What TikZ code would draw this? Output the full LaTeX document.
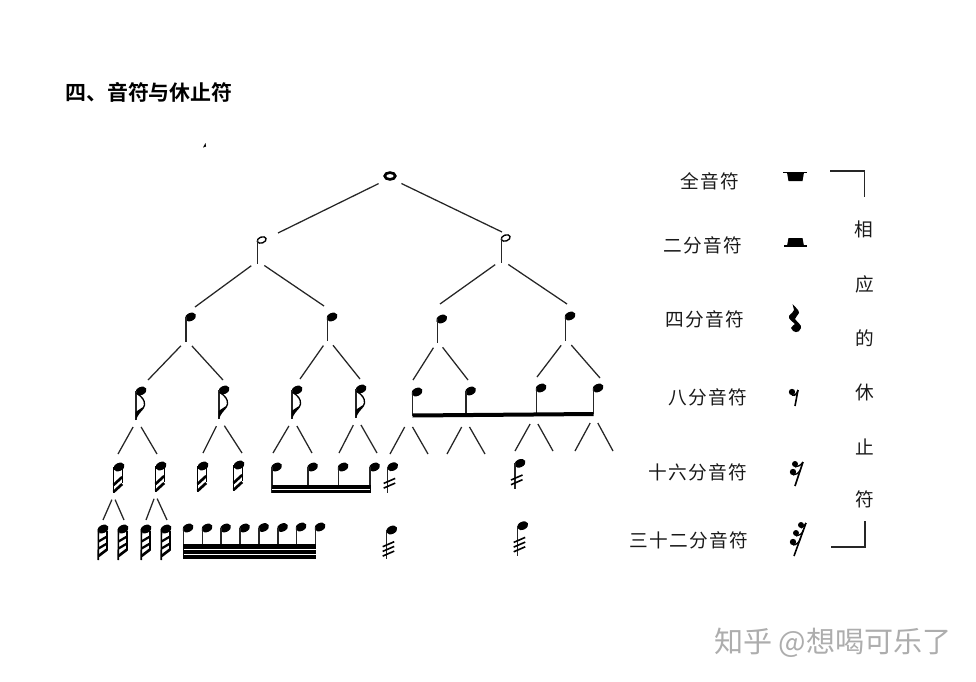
\documentclass[tikz,border=0pt]{standalone}
\usepackage{fontspec}
\newfontfamily\cjk[LetterSpace=7]{Noto Sans CJK SC}
\newfontfamily\cjktitle{Noto Sans CJK SC Bold}
\newfontfamily\cjkmark{Noto Sans CJK SC}
\newcommand\notehead{\fill[rotate=-25] (0,0) ellipse [x radius=5.8,y radius=4];}
\tikzset{
  every pic/.style={yscale=-1},
  label/.style={inner sep=0pt,text=black!90,font=\cjk\fontsize{14}{16}\selectfont},
  branch/.style={line width=0.95pt,black!85},
  stem/.style={line width=1pt,black!85},
  pics/whole/.style={code={
    \draw[line width=2pt] (0,0) ellipse [x radius=5.3,y radius=3.4];
    \coordinate (-fork) at (0,2);
  }},
  pics/half/.style={code={
    \draw[line width=1pt,rotate=-20] (0,0) ellipse [x radius=4.6,y radius=3];
    \draw[stem] (-4.5,0) -- (-4.5,#1);
    \coordinate (-fork) at (-4,#1-3);
  }},
  pics/quarter/.style={code={
    \notehead
    \draw[stem] (-4.5,0) -- (-4.5,#1);
    \coordinate (-foot) at (-4.5,#1);
    \coordinate (-fork) at (-4,#1-2);
  }},
  pics/eighth/.style={code={
    \notehead
    \draw[stem] (-5,0) -- (-5,29);
    \draw[line width=1pt] (-4.5,2) .. controls (1,6) and (4,9) .. (3.5,14) .. controls (3,18) and (-2,21) .. (-4.5,25);
    \fill (-5.4,29) -- (-5.4,21) -- (2,16) -- cycle;
    \coordinate (-fork) at (-4,29);
  }},
  pics/sixteenth/.style={code={
    \notehead
    \draw[line width=1.2pt] (-5.5,0) -- (-5.5,26);
    \draw[line width=1pt] (3.2,2) -- (3.2,16);
    \draw[line width=2pt] (-5.5,18) -- (3.2,10);
    \draw[line width=2pt] (-5.5,25) -- (3.2,17);
    \coordinate (-fork) at (-5.5,29);
  }},
  pics/thirtysecond/.style={code={
    \notehead
    \draw[line width=1.2pt] (-4.5,0) -- (-4.8,31);
    \draw[line width=1pt] (4,2) -- (4,21);
    \draw[line width=1.7pt] (-4.5,12.5) -- (4,7.5);
    \draw[line width=1.7pt] (-4.5,19.5) -- (4,14.5);
    \draw[line width=2pt] (-4.5,27) -- (4,20.5);
  }},
  pics/trem/.style 2 args={code={
    \notehead
    \draw[stem] (-5,0) -- (-5,#1);
    \foreach \k in {1,...,#2} \draw[line width=1.2pt] (-9,12+4.7*\k) -- (2.5,7+4.7*\k);
  }},
}
\begin{document}
\begin{tikzpicture}[x=0.75pt,y=0.75pt,yscale=-1,xscale=1]
\useasboundingbox (0,0) rectangle (976,682);

% Title
\node[inner sep=0pt,anchor=west,font=\cjktitle\fontsize{15.7}{18}\selectfont] (title) at (65,92) {四、音符与休止符};
\fill (203,147.5) -- (205.5,143) -- (206,146.5) -- cycle;

% Notes
\pic (w) at (390,176) {whole};
\pic (h1) at (261.7,240) {half=24};
\pic (h2) at (505.7,238) {half=25};
\pic (q1) at (190.5,317) {quarter=25};
\pic (q2) at (332,317) {quarter=24};
\pic (q3) at (441.7,319) {quarter=24};
\pic (q4) at (570,316) {quarter=25};
\pic (e1) at (141,391) {eighth};
\pic (e2) at (224,390) {eighth};
\pic (e3) at (297,390) {eighth};
\pic (e4) at (361,389) {eighth};
\pic (b1) at (417,392) {quarter=23.5};
\pic (b2) at (470.5,391) {quarter=24};
\pic (b3) at (541,388) {quarter=26.5};
\pic (b4) at (598,388) {quarter=26};
\pic (s1) at (119,467) {sixteenth};
\pic (s2) at (161,466) {sixteenth};
\pic (s3) at (203,466) {sixteenth};
\pic (s4) at (239,465) {sixteenth};
\pic (u1) at (276.5,467) {quarter=26};
\pic (u2) at (312.5,467) {quarter=26};
\pic (u3) at (343,467) {quarter=26};
\pic (u4) at (374.5,467) {quarter=26};
\pic at (392.7,466.7) {trem={26}{2}};
\pic at (520,463.3) {trem={26}{2}};
\pic at (391.7,530) {trem={29}{3}};
\pic at (522.7,525.7) {trem={30}{3}};
\pic at (103,529) {thirtysecond};
\pic at (123,529) {thirtysecond};
\pic at (146,529) {thirtysecond};
\pic at (166,529) {thirtysecond};
\foreach \n/\x/\y in {1/188/528,2/207/528,3/225.5/528,4/244.5/528,5/263.5/527.5,6/282.5/527.5,7/301/527,8/320/527}
  \pic (t\n) at (\x,\y) {quarter=559-\y};

% Beams
\draw[line width=3pt] (b1-foot) -- (b4-foot);
\fill (u1-foot) rectangle ([xshift=0.75pt,yshift=-6pt]u4-foot);
\draw[white,line width=0.4pt] ([yshift=-3pt]u1-foot) -- ([yshift=-3pt]u4-foot);
\fill ([xshift=-0.5pt]t1-foot) rectangle ([xshift=0.5pt,yshift=-11.2pt]t8-foot);
\draw[white,line width=0.35pt] ([yshift=-3.6pt]t1-foot) -- ([yshift=-3.6pt]t8-foot);
\draw[white,line width=0.35pt] ([yshift=-7.6pt]t1-foot) -- ([yshift=-7.6pt]t8-foot);

% Free ends of the branches
\foreach \n/\x/\y in {a1/278/233,a2/502/232,
  c1/195/307,c2/324/306,c3/440/304,c4/567/304,
  d1/148/380,d2/223/380,d3/300/379,d4/360/379,d5/413/380,d6/468/380,d7/537/377,d8/600/378,
  f1/118/454,f2/157/454,f3/203/453,f4/242/453,f5/273/453,f6/312/453,f7/339/453,f8/377/453,
  f9/390/454,f10/428/454,f11/447/454,f12/485/454,f13/515/451,f14/553/451,f15/575/451,f16/613/451,
  g1/103/520,g2/124/520,g3/146/520,g4/167/520}
  \coordinate (\n) at (\x,\y);
\coordinate (p1) at (408.5,420);
\coordinate (p2) at (465.5,420);
\coordinate (p3) at (534,417);
\coordinate (p4) at (594,416);

% Branches
\foreach \a/\b in {w-fork/a1,w-fork/a2}
  \draw[branch,shorten <=9.5pt] (\a) -- (\b);
\foreach \a/\b in {h1-fork/c1,h1-fork/c2,h2-fork/c3,h2-fork/c4}
  \draw[branch,shorten <=6pt] (\a) -- (\b);
\foreach \a/\b in {q1-fork/d1,q1-fork/d2,q2-fork/d3,q2-fork/d4,q3-fork/d5,q3-fork/d6,q4-fork/d7,q4-fork/d8}
  \draw[branch,shorten <=6pt] (\a) -- (\b);
\foreach \a/\b in {e1-fork/f1,e1-fork/f2,e2-fork/f3,e2-fork/f4,e3-fork/f5,e3-fork/f6,e4-fork/f7,e4-fork/f8,
  p1/f9,p1/f10,p2/f11,p2/f12,p3/f13,p3/f14,p4/f15,p4/f16}
  \draw[branch,shorten <=6pt] (\a) -- (\b);
\foreach \a/\b in {s1-fork/g1,s1-fork/g2,s2-fork/g3,s2-fork/g4}
  \draw[branch,shorten <=3pt] (\a) -- (\b);

% Labels
\node[label,anchor=east] (l1) at (739.5,181.5) {全音符};
\node[label,anchor=east] (l2) at (742.5,245.5) {二分音符};
\node[label,anchor=east] (l3) at (744.5,319.5) {四分音符};
\node[label,anchor=east] (l4) at (747.5,397.5) {八分音符};
\node[label,anchor=east] (l5) at (747.5,472.5) {十六分音符};
\node[label,anchor=east] (l6) at (748.5,540.5) {三十二分音符};

% Rests
\draw[line width=1pt] (783,172.5) -- (807,172.5);
\fill (787,172.5) -- (804,172.5) -- (802.5,181) -- (788.5,181) -- cycle;
\draw[line width=1pt] (784,246) -- (807,246);
\fill (788.5,238) -- (802.5,238) -- (804,246) -- (787,246) -- cycle;
\fill (792.5,304) .. controls (796,308) and (799,310) .. (799,313) .. controls (798,316) and (795,317) .. (795,319) .. controls (797,322) and (802,325) .. (801,328) .. controls (799,334) and (793,333) .. (791,328) .. controls (792,325) and (794,326) .. (795,324) .. controls (792,321) and (788,319) .. (789,316) .. controls (791,313) and (794,312) .. (794,310) -- cycle;
\fill (792,392) circle [radius=3.2];
\draw[line width=1.2pt] (798,390) -- (795,406);
\draw[line width=1.2pt] (792,395) .. controls (795,396) and (797,394) .. (798,390);
\fill (793,472) circle [radius=3.2];
\fill (795,464) circle [radius=3];
\draw[line width=1.2pt] (803,462) -- (795,486);
\draw[line width=1pt] (793,475) .. controls (796,475) and (799,473) .. (800.5,470);
\draw[line width=1pt] (795,467) .. controls (798,467) and (801,465) .. (803,462);
\fill (801,525) circle [radius=3];
\fill (796,533) circle [radius=3];
\fill (793,542) circle [radius=3.2];
\draw[line width=1.2pt] (806,523) -- (794,556);
\draw[line width=1pt] (793,545) .. controls (796,545) and (799,543) .. (800.5,538);
\draw[line width=1pt] (796,536) .. controls (799,536) and (802,534) .. (803.5,530);
\draw[line width=1pt] (801,528) .. controls (803,527) and (805,526) .. (806,523);

% Bracket
\coordinate (k1) at (830,171);
\coordinate (k2) at (864.5,171);
\coordinate (k3) at (864.5,197);
\coordinate (k4) at (865,521);
\coordinate (k5) at (865,547);
\coordinate (k6) at (831,547);
\draw[branch] (k1) -- (k2) -- (k3);
\draw[branch] (k4) -- (k5) -- (k6);
\node[label] (v1) at (864,229) {相};
\node[label] (v2) at (865,284) {应};
\node[label] (v3) at (865,338) {的};
\node[label] (v4) at (865,392) {休};
\node[label] (v5) at (865,447) {止};
\node[label] (v6) at (865,499) {符};

% Watermark
\node[inner sep=0pt,anchor=west,text=black!32,font=\cjkmark\fontsize{21.8}{24}\selectfont] (mark) at (714,643) {知乎 @想喝可乐了};
\end{tikzpicture}
\end{document}
